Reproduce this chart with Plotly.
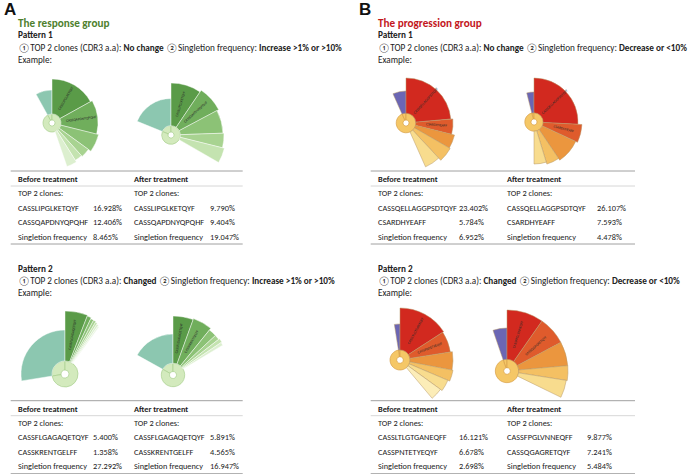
import math
import plotly.graph_objects as go

W, H = 698, 474

# ---------------- data ----------------
# Fan wedges: singleton wedge [angular span deg, radius], clone wedge angular widths (deg) and radii
A1B_single = [29, 33]
A1B_widths = [61, 43, 22, 12, 10, 13]
A1B_radii = [44, 46, 48, 45, 44, 46]

A1A_single = [68, 36.5]
A1A_widths = [34, 28, 26, 16, 16]
A1A_radii = [52, 54, 52, 53, 55]

A2B_single = [99, 44]
A2B_widths = [21, 4, 3, 2.5, 2, 2, 1.5]
A2B_radii = [63, 62, 61, 61, 60, 59, 58]

A2A_single = [61, 41]
A2A_widths = [20, 19, 8, 5, 4, 3]
A2A_radii = [59, 60, 58, 58, 59, 58]

B1B_single = [24, 32]
B1B_widths = [85, 19, 16, 17, 19]
B1B_radii = [45, 47, 50, 51, 48]

B1A_single = [14, 30]
B1A_widths = [93, 22, 31, 17, 17]
B1A_radii = [44, 48, 46, 44, 42]

B2B_single = [9, 36]
B2B_widths = [57, 24, 20, 12, 13, 14]
B2B_radii = [52, 51, 53, 54, 52, 50]

B2A_single = [19, 43]
B2A_widths = [35, 27, 23, 14, 17]
B2A_radii = [61, 61, 61, 61, 60]

# Table contents
A1_before_clone = ["CASSLIPGLKETQYF", "CASSQAPDNYQPQHF"]
A1_before_freq = ["16.928%", "12.406%"]
A1_before_single = "8.465%"
A1_after_clone = ["CASSLIPGLKETQYF", "CASSQAPDNYQPQHF"]
A1_after_freq = ["9.790%", "9.404%"]
A1_after_single = "19.047%"

A2_before_clone = ["CASSFLGAGAQETQYF", "CASSKRENTGELFF"]
A2_before_freq = ["5.400%", "1.358%"]
A2_before_single = "27.292%"
A2_after_clone = ["CASSFLGAGAQETQYF", "CASSKRENTGELFF"]
A2_after_freq = ["5.891%", "4.565%"]
A2_after_single = "16.947%"

B1_before_clone = ["CASSQELLAGGPSDTQYF", "CSARDHYEAFF"]
B1_before_freq = ["23.402%", "5.784%"]
B1_before_single = "6.952%"
B1_after_clone = ["CASSQELLAGGPSDTQYF", "CSARDHYEAFF"]
B1_after_freq = ["26.107%", "7.593%"]
B1_after_single = "4.478%"

B2_before_clone = ["CASSLTLGTGANEQFF", "CASSPNTETYEQYF"]
B2_before_freq = ["16.121%", "6.678%"]
B2_before_single = "2.698%"
B2_after_clone = ["CASSFPGLVNNEQFF", "CASSQGAGRETQYF"]
B2_after_freq = ["9.877%", "7.241%"]
B2_after_single = "5.484%"

# ---------------- styles ----------------
GREENS = ["#5a9b48", "#70ae5c", "#8cc276", "#a8d391", "#c4e3b0", "#dcefcf", "#ebf6e3"]
REDS = ["#d2291f", "#df5b2c", "#eb963e", "#f4c063", "#f8dc8e", "#fcedb8"]
TEAL = "#8cc7b0"
PURPLE = "#6b66b4"
FONT = "Carlito, Lato, sans-serif"
TS = 8.3   # table font size
BS = 9.2   # body text size

fig = go.Figure()
polars = {}
annotations = []
shapes = []


def txt(x, y, s, size=8.5, color="#222222", family=FONT, anchor="left", angle=0):
    annotations.append(dict(x=x / W, y=1 - y / H, xref="paper", yref="paper", text=s,
                            showarrow=False, xanchor=anchor, yanchor="middle", textangle=angle,
                            font=dict(size=size, color=color, family=family)))


def add_fan(idx, cx, cy, R, ring, hole, single, widths, radii, palette, single_color,
            ring_color, ring_line, wedge_line, labels):
    key = "polar" if idx == 1 else f"polar{idx}"
    polars[key] = dict(
        domain=dict(x=[(cx - R) / W, (cx + R) / W], y=[1 - (cy + R) / H, 1 - (cy - R) / H]),
        radialaxis=dict(range=[0, R], visible=False, showgrid=False),
        angularaxis=dict(rotation=90, direction="clockwise", visible=False, showgrid=False),
        bgcolor="rgba(0,0,0,0)",
        bargap=0,
    )
    span = single[0]
    # inner ring
    fig.add_trace(go.Barpolar(
        theta=[-span / 2, (360 - span) / 2], width=[span, 360 - span],
        r=[ring - hole, ring - hole], base=[hole, hole],
        marker=dict(color=[ring_color, ring_color], line=dict(color=ring_line, width=0.7)),
        subplot=key, showlegend=False, hoverinfo="skip"))
    # singleton wedge
    fig.add_trace(go.Barpolar(
        theta=[-span / 2], width=[span], r=[single[1] - ring], base=[ring],
        marker=dict(color=single_color, line=dict(color=wedge_line, width=0.5)),
        subplot=key, showlegend=False, hoverinfo="skip"))
    # clone wedges
    thetas, start = [], 0.0
    for w in widths:
        thetas.append(start + w / 2)
        start += w
    fig.add_trace(go.Barpolar(
        theta=thetas, width=widths, r=[rr - ring for rr in radii], base=[ring] * len(radii),
        marker=dict(color=palette[:len(widths)], line=dict(color=wedge_line, width=0.5)),
        subplot=key, showlegend=False, hoverinfo="skip"))
    # tiny radial clone labels inside the largest wedges
    for lab, th, rr in zip(labels, thetas, radii):
        rm = (ring + rr) / 2 + 2
        a = math.radians(th)
        txt(cx + rm * math.sin(a), cy - rm * math.cos(a), lab, size=3.6, color="#2a2a2a",
            anchor="center", angle=th - 90 if th < 180 else th + 90)


G_LINE = "rgba(255,255,255,0.9)"
R_LINE = "#b89a6a"
add_fan(1, 52, 123, 50, 9, 3, A1B_single, A1B_widths, A1B_radii, GREENS, TEAL, "#d3eabd", "#a9d08f", G_LINE, A1_before_clone)
add_fan(2, 171, 135, 62, 9.3, 3, A1A_single, A1A_widths, A1A_radii, GREENS, TEAL, "#d3eabd", "#a9d08f", G_LINE, A1_after_clone)
add_fan(3, 65, 374, 64, 13, 4, A2B_single, A2B_widths, A2B_radii, GREENS, TEAL, "#d3eabd", "#a9d08f", G_LINE, A2_before_clone[:1])
add_fan(4, 173, 375, 64, 11.7, 3.5, A2A_single, A2A_widths, A2A_radii, GREENS, TEAL, "#d3eabd", "#a9d08f", G_LINE, A2_after_clone)
add_fan(5, 406, 123, 60, 9.8, 3, B1B_single, B1B_widths, B1B_radii, REDS, PURPLE, "#f5c766", "#d9a04a", R_LINE, B1_before_clone)
add_fan(6, 534, 122, 60, 9.2, 3, B1A_single, B1A_widths, B1A_radii, REDS, PURPLE, "#f5c766", "#d9a04a", R_LINE, B1_after_clone)
add_fan(7, 400, 360, 64, 10, 3.3, B2B_single, B2B_widths, B2B_radii, REDS, PURPLE, "#f5c766", "#d9a04a", R_LINE, B2_before_clone)
add_fan(8, 507, 371, 66, 11.7, 3.3, B2A_single, B2A_widths, B2A_radii, REDS, PURPLE, "#f5c766", "#d9a04a", R_LINE, B2_after_clone)


def hline(x0, x1, y, color="#9a9a9a", width=1):
    shapes.append(dict(type="line", xref="paper", yref="paper", x0=x0 / W, x1=x1 / W,
                       y0=1 - y / H, y1=1 - y / H, line=dict(color=color, width=width)))


def header_block(x, y0, title, title_color, pattern, cond1, cond2):
    if title:
        txt(x, y0 - 12, f"<b>{title}</b>", size=11.2, color=title_color)
    txt(x, y0, f"<b>{pattern}</b>", size=BS)
    txt(x, y0 + 12, f"①TOP 2 clones (CDR3 a.a): <b>{cond1}</b> ②Singletion frequency: <b>{cond2}</b>", size=BS)
    txt(x, y0 + 24, "Example:", size=BS)


def table(x0, x1, yt, cols, bc, bf, bs, ac, af, as_):
    hline(x0, x1, yt, "#a0a0a0", 1)
    hline(x0, x1, yt + 15, "#cccccc", 0.8)
    hline(x0, x1, yt + 73, "#a0a0a0", 1)
    txt(cols[0], yt + 8, "<b>Before treatment</b>", size=TS)
    txt(cols[2], yt + 8, "<b>After treatment</b>", size=TS)
    txt(cols[0], yt + 22.5, "TOP 2 clones:", size=TS)
    txt(cols[2], yt + 22.5, "TOP 2 clones:", size=TS)
    for i in range(2):
        yy = yt + 36.5 + 14.5 * i
        txt(cols[0], yy, bc[i], size=TS)
        txt(cols[1], yy, bf[i], size=TS)
        txt(cols[2], yy, ac[i], size=TS)
        txt(cols[3], yy, af[i], size=TS)
    yy = yt + 65.5
    txt(cols[0], yy, "Singletion frequency", size=TS)
    txt(cols[1], yy, bs, size=TS)
    txt(cols[2], yy, "Singletion frequency", size=TS)
    txt(cols[3], yy, as_, size=TS)


GREEN_T = "#4e7f2d"
RED_T = "#c3161c"
txt(1.5, 10, "<b>A</b>", size=17, color="#111111", family="Liberation Sans")
txt(357, 10, "<b>B</b>", size=17, color="#111111", family="Liberation Sans")

header_block(16, 35, "The response group", GREEN_T, "Pattern 1", "No change", "Increase &gt;1% or &gt;10%")
header_block(16, 268, None, GREEN_T, "Pattern 2", "Changed", "Increase &gt;1% or &gt;10%")
header_block(376, 35, "The progression group", RED_T, "Pattern 1", "No change", "Decrease or &lt;10%")
header_block(376, 268, None, RED_T, "Pattern 2", "Changed", "Decrease or &lt;10%")

colsA = [16, 91, 132, 208]
colsB1 = [376, 457, 505, 595]
colsB2 = [376, 457, 505, 585]
table(10.7, 242.7, 171, colsA, A1_before_clone, A1_before_freq, A1_before_single,
      A1_after_clone, A1_after_freq, A1_after_single)
table(10.7, 242.7, 400.7, colsA, A2_before_clone, A2_before_freq, A2_before_single,
      A2_after_clone, A2_after_freq, A2_after_single)
table(370.7, 635, 171, colsB1, B1_before_clone, B1_before_freq, B1_before_single,
      B1_after_clone, B1_after_freq, B1_after_single)
table(370.7, 635, 400.7, colsB2, B2_before_clone, B2_before_freq, B2_before_single,
      B2_after_clone, B2_after_freq, B2_after_single)

fig.update_layout(width=W, height=H, margin=dict(l=0, r=0, t=0, b=0),
                  paper_bgcolor="white", plot_bgcolor="white",
                  annotations=annotations, shapes=shapes, showlegend=False, **polars)

fig.write_html("out.html", config={"displayModeBar": False},
               post_script="document.body.style.margin='0';document.body.style.overflow='hidden';")
